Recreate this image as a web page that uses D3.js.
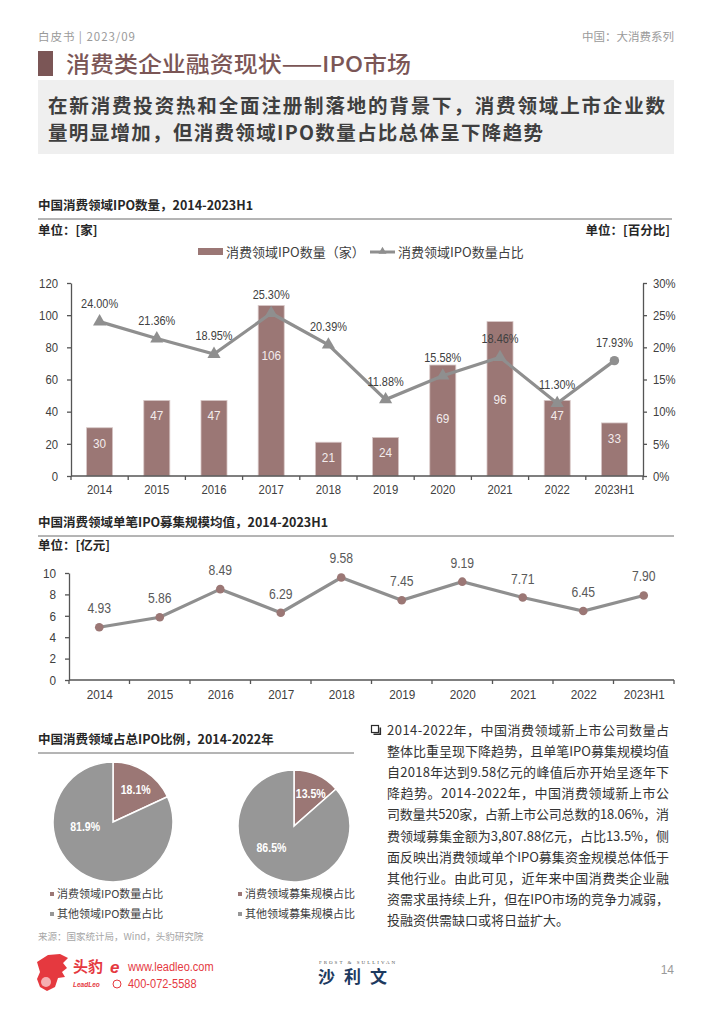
<!DOCTYPE html>
<html><head><meta charset="utf-8">
<script src="https://cdn.jsdelivr.net/npm/d3@7"></script>
<style>
body{margin:0;background:#fff;}
svg{display:block;}
</style></head>
<body>
<svg id="c" width="710" height="1025"></svg>
<script>
// ---------- data ----------
const years = ["2014","2015","2016","2017","2018","2019","2020","2021","2022","2023H1"];
const ipoCount = [30,47,47,106,21,24,69,96,47,33];
const ipoShare = [0.24,0.2136,0.1895,0.253,0.2039,0.1188,0.1558,0.1846,0.113,0.1793];
const avgRaise = [4.93,5.86,8.49,6.29,9.58,7.45,9.19,7.71,6.45,7.90];
const leftTicks = [0,20,40,60,80,100,120];
const rightTicks = [0,0.05,0.10,0.15,0.20,0.25,0.30];
const raiseTicks = [0,2,4,6,8,10];
const pieCountLabels = ["消费领域IPO数量占比","其他领域IPO数量占比"];
const pieCountValues = [18.1,81.9];
const pieRaiseLabels = ["消费领域募集规模占比","其他领域募集规模占比"];
const pieRaiseValues = [13.5,86.5];
const bodyLines = [
 "2014-2022年，中国消费领域新上市公司数量占",
 "整体比重呈现下降趋势，且单笔IPO募集规模均值",
 "自2018年达到9.58亿元的峰值后亦开始呈逐年下",
 "降趋势。2014-2022年，中国消费领域新上市公",
 "司数量共520家，占新上市公司总数的18.06%，消",
 "费领域募集金额为3,807.88亿元，占比13.5%，侧",
 "面反映出消费领域单个IPO募集资金规模总体低于",
 "其他行业。由此可见，近年来中国消费类企业融",
 "资需求虽持续上升，但在IPO市场的竞争力减弱，",
 "投融资供需缺口或将日益扩大。"
];

// ---------- styles ----------
const CJK = "'Noto Sans CJK SC','Noto Sans',sans-serif";
const NUM = "'Liberation Sans Narrow','Arial Narrow','Liberation Sans',sans-serif";
const BROWN = "#9b7775", GREY = "#8f8f8f", PIEGREY = "#979797", DARK = "#404040";

const svg = d3.select("#c");
// condense numeric text to mimic a narrow face
function narrow(sel, f){
  f = f || 0.87;
  sel.each(function(){
    const l = this.getComputedTextLength();
    d3.select(this).attr("textLength", l*f).attr("lengthAdjust","spacingAndGlyphs");
  });
}

// ---------- header ----------
svg.append("text").attr("x",38).attr("y",41).attr("font-family",CJK).attr("font-size",11.5)
  .attr("fill","#9a9a9a").attr("textLength",97).attr("lengthAdjust","spacing").text("白皮书 | 2023/09");
svg.append("text").attr("x",674).attr("y",41).attr("text-anchor","end").attr("font-family",CJK)
  .attr("font-size",11.5).attr("fill","#9a9a9a").text("中国：大消费系列");
svg.append("rect").attr("x",38).attr("y",51).attr("width",15).attr("height",25).attr("fill","#7b5656");
svg.append("text").attr("x",66).attr("y",71.5).attr("font-family",CJK).attr("font-size",22)
  .attr("font-weight",500).attr("fill","#7b5656").attr("textLength",345).attr("lengthAdjust","spacingAndGlyphs")
  .text("消费类企业融资现状——IPO市场");
svg.append("rect").attr("x",38).attr("y",80).attr("width",636).attr("height",74).attr("fill","#efefef");
svg.append("text").attr("x",48).attr("y",113).attr("font-family",CJK).attr("font-size",19.5)
  .attr("font-weight",600).attr("fill","#3f3f3f").attr("textLength",617).attr("lengthAdjust","spacing")
  .text("在新消费投资热和全面注册制落地的背景下，消费领域上市企业数");
svg.append("text").attr("x",48).attr("y",139.5).attr("font-family",CJK).attr("font-size",19.5)
  .attr("font-weight",600).attr("fill","#3f3f3f").attr("textLength",495).attr("lengthAdjust","spacing")
  .text("量明显增加，但消费领域IPO数量占比总体呈下降趋势");

function sectionTitle(x,y,x2,title){
  svg.append("text").attr("x",x).attr("y",y).attr("font-family",CJK).attr("font-size",12.5)
    .attr("font-weight",700).attr("fill","#262626").text(title);
  svg.append("line").attr("x1",x).attr("x2",x2).attr("y1",y+9).attr("y2",y+9)
    .attr("stroke","#6b6b6b").attr("stroke-width",1);
}

// ---------- chart 1 ----------
sectionTitle(38,210,672,"中国消费领域IPO数量，2014-2023H1");
svg.append("text").attr("x",38).attr("y",235).attr("font-family",CJK).attr("font-size",12.5)
  .attr("font-weight",700).attr("fill","#262626").text("单位：[家]");
svg.append("text").attr("x",670).attr("y",235).attr("text-anchor","end").attr("font-family",CJK)
  .attr("font-size",12.5).attr("font-weight",700).attr("fill","#262626").text("单位：[百分比]");

// legend
svg.append("rect").attr("x",198).attr("y",248).attr("width",25).attr("height",7).attr("fill",BROWN);
svg.append("text").attr("x",226).attr("y",257).attr("font-family",CJK).attr("font-size",13)
  .attr("fill",DARK).text("消费领域IPO数量（家）");
svg.append("line").attr("x1",370).attr("x2",395).attr("y1",252).attr("y2",252)
  .attr("stroke",GREY).attr("stroke-width",3);
svg.append("path").attr("d",d3.symbol(d3.symbolTriangle,28)()).attr("transform","translate(382.5,251.5)").attr("fill",GREY);
svg.append("text").attr("x",398).attr("y",257).attr("font-family",CJK).attr("font-size",13)
  .attr("fill",DARK).text("消费领域IPO数量占比");

const x1 = d3.scaleBand().domain(years).range([71,643]).paddingInner(0.545).paddingOuter(0.2725);
const yL = d3.scaleLinear().domain([0,120]).range([476,283]);
const yR = d3.scaleLinear().domain([0,0.30]).range([476,283]);
const cx1 = d => x1(d) + x1.bandwidth()/2;

// bars
const g1 = svg.append("g");
g1.selectAll("rect.bar").data(years).join("rect").attr("class","bar")
  .attr("x",d=>x1(d)).attr("width",x1.bandwidth())
  .attr("y",(d,i)=>yL(ipoCount[i])).attr("height",(d,i)=>yL(0)-yL(ipoCount[i]))
  .attr("fill",BROWN).attr("stroke","#d8c8c7").attr("stroke-width",0.8);

// axes
const axL = svg.append("g").attr("transform","translate(71,0)")
  .call(d3.axisLeft(yL).tickValues(leftTicks).tickSize(4).tickPadding(9).tickSizeOuter(0));
const axR = svg.append("g").attr("transform","translate(643,0)")
  .call(d3.axisRight(yR).tickValues(rightTicks).tickSize(4).tickPadding(6).tickSizeOuter(0)
    .tickFormat(d3.format(".0%")));
const axB = svg.append("g").attr("transform","translate(0,476)")
  .call(d3.axisBottom(x1).tickSize(0).tickPadding(9).tickSizeOuter(0));
[axL,axR,axB].forEach(a=>{
  a.selectAll("path,line").attr("stroke","#555").attr("stroke-width",1.3);
  a.selectAll("text").attr("font-family",NUM).attr("font-size",13).attr("fill",DARK);
  narrow(a.selectAll("text"));
});
axB.select(".domain").attr("d","M71,0H643");
const bounds1 = years.map(d=>x1(d)-x1.step()*x1.paddingInner()/2).concat([643]);
svg.append("g").selectAll("line").data(bounds1).join("line")
  .attr("x1",d=>d).attr("x2",d=>d).attr("y1",476).attr("y2",480).attr("stroke","#555").attr("stroke-width",1.3);

// line for share
const lineShare = d3.line().x((d,i)=>cx1(years[i])).y(d=>yR(d));
svg.append("path").datum(ipoShare).attr("d",lineShare).attr("fill","none")
  .attr("stroke",GREY).attr("stroke-width",3.2).attr("stroke-linejoin","miter");
svg.append("g").selectAll("path").data(ipoShare).join("path")
  .attr("d",(d,i)=> i===ipoShare.length-1 ? d3.symbol(d3.symbolCircle,70)() : d3.symbol(d3.symbolTriangle,75)())
  .attr("transform",(d,i)=>`translate(${cx1(years[i])},${yR(d)})`).attr("fill",GREY);
const shareLab = svg.append("g").selectAll("text").data(ipoShare).join("text")
  .attr("x",(d,i)=>cx1(years[i])).attr("y",d=>yR(d)-14)
  .attr("text-anchor","middle").attr("font-family",NUM).attr("font-size",13).attr("fill",DARK)
  .text(d=>d3.format(".2%")(d));
narrow(shareLab, 0.84);

// bar labels
const barLab = g1.selectAll("text").data(ipoCount).join("text")
  .attr("x",(d,i)=>cx1(years[i]))
  .attr("y",(d,i)=>{
    const top = yL(d), ly = yR(ipoShare[i]);
    const h = yL(0)-top;
    return (ly>top && h>90) ? ly+47 : top+20;
  })
  .attr("text-anchor","middle").attr("font-family",NUM).attr("font-size",13.5).attr("fill","#f3ecec")
  .text(d=>d);
narrow(barLab);

// ---------- chart 2 ----------
sectionTitle(38,527,674,"中国消费领域单笔IPO募集规模均值，2014-2023H1");
svg.append("text").attr("x",38).attr("y",550).attr("font-family",CJK).attr("font-size",12.5)
  .attr("font-weight",700).attr("fill","#262626").text("单位：[亿元]");

const x2 = d3.scalePoint().domain(years).range([69,674]).padding(0.5);
const y2 = d3.scaleLinear().domain([0,10]).range([680,573]);
const ax2L = svg.append("g").attr("transform","translate(69,0)")
  .call(d3.axisLeft(y2).tickValues(raiseTicks).tickSize(4).tickPadding(9).tickSizeOuter(0));
const ax2B = svg.append("g").attr("transform","translate(0,680)")
  .call(d3.axisBottom(x2).tickSize(0).tickPadding(9).tickSizeOuter(0));
[ax2L,ax2B].forEach(a=>{
  a.selectAll("path,line").attr("stroke","#555").attr("stroke-width",1.3);
  a.selectAll("text").attr("font-family",NUM).attr("font-size",13.5).attr("fill",DARK);
  narrow(a.selectAll("text"));
});
ax2B.select(".domain").attr("d","M69,0H674");
const bounds2 = years.map(d=>x2(d)-x2.step()/2).concat([674]);
svg.append("g").selectAll("line").data(bounds2).join("line")
  .attr("x1",d=>d).attr("x2",d=>d).attr("y1",680).attr("y2",684).attr("stroke","#555").attr("stroke-width",1.3);

svg.append("path").datum(avgRaise).attr("d",d3.line().x((d,i)=>x2(years[i])).y(d=>y2(d)))
  .attr("fill","none").attr("stroke",GREY).attr("stroke-width",3.2);
svg.append("g").selectAll("circle").data(avgRaise).join("circle")
  .attr("cx",(d,i)=>x2(years[i])).attr("cy",d=>y2(d)).attr("r",4.3).attr("fill",BROWN);
const raiseLab = svg.append("g").selectAll("text").data(avgRaise).join("text")
  .attr("x",(d,i)=>x2(years[i])).attr("y",d=>y2(d)-14)
  .attr("text-anchor","middle").attr("font-family",NUM).attr("font-size",14).attr("fill","#595959")
  .text(d=>d3.format(".2f")(d));
narrow(raiseLab);

// ---------- pies ----------
sectionTitle(38,744,354,"中国消费领域占总IPO比例，2014-2022年");
function drawPie(cx,cy,r,values,labels,bigAngle,bigDist,legendX){
  const pie = d3.pie().sort(null)(values);
  const arc = d3.arc().innerRadius(0).outerRadius(r);
  const g = svg.append("g").attr("transform",`translate(${cx},${cy})`);
  g.selectAll("path").data(pie).join("path").attr("d",arc)
    .attr("fill",(d,i)=>i===0?BROWN:PIEGREY).attr("stroke","#fff").attr("stroke-width",1.5);
  const lab = d3.arc().innerRadius(r*0.64).outerRadius(r*0.64);
  const t = g.selectAll("text").data(pie).join("text")
    .attr("transform",(d,i)=>{
      if(i===0){const c=lab.centroid(d);return `translate(${c[0]+2},${c[1]})`;}
      const a=bigAngle*Math.PI/180;
      return `translate(${Math.sin(a)*r*bigDist},${-Math.cos(a)*r*bigDist})`;
    })
    .attr("dy","0.35em").attr("text-anchor","middle").attr("font-family",NUM).attr("font-size",12)
    .attr("font-weight",700).attr("fill","#fff").text(d=>d3.format(".1f")(d.value)+"%");
  narrow(t, 0.88);
  const lg = svg.append("g");
  labels.forEach((t,i)=>{
    lg.append("rect").attr("x",legendX).attr("y",892+i*20).attr("width",4).attr("height",4)
      .attr("fill",i===0?BROWN:PIEGREY);
    lg.append("text").attr("x",legendX+7).attr("y",898+i*20).attr("font-family",CJK).attr("font-size",11)
      .attr("fill",DARK).text(t);
  });
}
drawPie(113,822,60,pieCountValues,pieCountLabels,261,0.47,50);
drawPie(294,826,56,pieRaiseValues,pieRaiseLabels,226,0.56,238);

svg.append("text").attr("x",38).attr("y",940).attr("font-family",CJK).attr("font-size",9.5)
  .attr("fill","#a6a6a6").text("来源：国家统计局，Wind，头豹研究院");

// ---------- body text ----------
const cb = svg.append("g");
cb.append("rect").attr("x",371.5).attr("y",725.5).attr("width",7).attr("height",7).attr("fill","none")
  .attr("stroke","#2b2b2b").attr("stroke-width",1.2);
cb.append("path").attr("d","M373.5,734.3H380.3V727.5").attr("fill","none").attr("stroke","#2b2b2b").attr("stroke-width",1.6);
svg.append("g").selectAll("text").data(bodyLines).join("text")
  .attr("x",387).attr("y",(d,i)=>735+i*21.1)
  .attr("font-family",CJK).attr("font-size",13).attr("fill","#333")
  .each(function(d,i){ if(i<bodyLines.length-1) d3.select(this).attr("textLength",282).attr("lengthAdjust","spacing"); })
  .text(d=>d);

// ---------- footer ----------
const RED = "#e5393f";
svg.append("path").attr("d","M37,962 L48,955 L60,954 L68,958 L63,963 L67,968 L62,972 L65,977 L58,978 L55,987 L47,991 L40,987 L37,979 L40,972 Z")
  .attr("fill",RED);
svg.append("circle").attr("cx",46).attr("cy",982).attr("r",5).attr("fill","#fff").attr("opacity",0.6);
svg.append("text").attr("x",73).attr("y",972).attr("font-family",CJK).attr("font-size",15).attr("font-weight",700)
  .attr("fill",RED).text("头豹");
svg.append("text").attr("x",73).attr("y",987).attr("font-family","'Liberation Sans',sans-serif").attr("font-size",6.5)
  .attr("font-weight",700).attr("font-style","italic").attr("fill",RED).text("LeadLeo");
svg.append("text").attr("x",110).attr("y",973).attr("font-family","'Liberation Sans',sans-serif").attr("font-size",17)
  .attr("font-weight",700).attr("font-style","italic").attr("fill",RED).text("e");
svg.append("circle").attr("cx",117).attr("cy",984).attr("r",4).attr("fill","none").attr("stroke",RED).attr("stroke-width",1);
const f1 = svg.append("text").attr("x",128).attr("y",971).attr("font-family",NUM).attr("font-size",12.5).attr("fill",RED).text("www.leadleo.com");
const f2 = svg.append("text").attr("x",128).attr("y",988).attr("font-family",NUM).attr("font-size",12.5).attr("fill",RED).text("400-072-5588");
narrow(f1,0.88); narrow(f2,0.88);
svg.append("text").attr("x",358).attr("y",964).attr("text-anchor","middle").attr("font-family","'Liberation Serif',serif")
  .attr("font-size",5).attr("letter-spacing",2).attr("fill","#555").text("FROST & SULLIVAN");
svg.append("text").attr("x",357).attr("y",983).attr("text-anchor","middle").attr("font-family",CJK)
  .attr("font-size",17).attr("font-weight",700).attr("letter-spacing",9).attr("fill","#1d3a5f").text("沙利文");
svg.append("text").attr("x",674).attr("y",974).attr("text-anchor","end").attr("font-family",NUM)
  .attr("font-size",12).attr("fill","#9a9a9a").text("14");
</script>
</body></html>
